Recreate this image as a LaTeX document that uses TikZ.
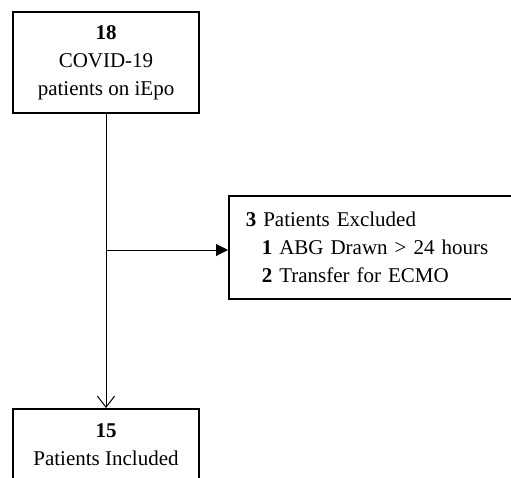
\documentclass[tikz,border=0pt]{standalone}
\usepackage{fontspec}
\setmainfont{Liberation Serif}
\usepackage{tikz}
\usetikzlibrary{arrows.meta}

\begin{document}
\begin{tikzpicture}[x=1pt,y=-1pt,font={\fontsize{21}{28}\selectfont}]
            \clip (0,0) rectangle (511,477);
            \node[draw,line width=1.5pt,align=center,minimum width=186pt,minimum height=101pt] (0) at (106,62.5) {\textbf{18}\\COVID-19\\patients on iEpo};
            \node[draw,line width=1.5pt,align=left,anchor=west,text width=290pt,minimum height=103pt,inner xsep=17pt] (1) at (228,247.5) {\textbf{3} Patients Excluded\\\hspace*{16pt}\textbf{1} ABG Drawn > 24 hours\\\hspace*{16pt}\textbf{2} Transfer for ECMO};
            \node[draw,line width=1.5pt,align=center,anchor=north,minimum width=186pt,minimum height=72pt] (2) at (106,408) {\textbf{15}\\Patients Included};
            \coordinate (3) at (106,250);
            \draw[-{Straight Barb[length=11pt,width=17pt]},line width=1pt] (0) to (2);
            \draw[-{Triangle[length=12pt,width=12pt]},line width=1pt] (3) to (3 -| 1.west);
        \end{tikzpicture}
\end{document}
